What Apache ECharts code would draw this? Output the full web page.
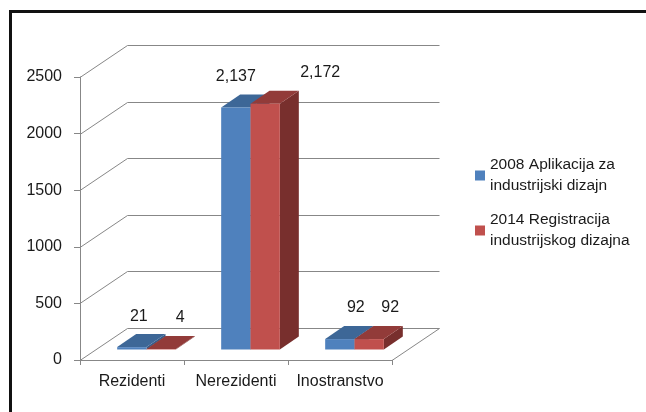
<!DOCTYPE html>
<html><head><meta charset="utf-8">
<script src="https://cdn.jsdelivr.net/npm/echarts@6/dist/echarts.min.js"></script>
<style>html,body{margin:0;padding:0;background:#fff}#c{width:646px;height:412px}</style>
</head><body><div id="c"></div>
<script>
// ---- data ----
const categories = ['Rezidenti', 'Nerezidenti', 'Inostranstvo'];
const seriesNames = ['2008 Aplikacija za\nindustrijski dizajn', '2014 Registracija\nindustrijskog dizajna'];
const values2008 = [21, 2137, 92];
const values2014 = [4, 2172, 92];
const yTicks = [0, 500, 1000, 1500, 2000, 2500];

// ---- layout / style ----
const WALL_DX = 47.5, WALL_DY = -32;
const BAR_SHIFT_X = 14.5, BAR_SHIFT_Y = -10.5;
const BAR_DEPTH_X = 19, BAR_DEPTH_Y = -13;
const BAR_FRAC = 0.282;
const labelDx = [[7, 0, 16], [19, 55, 21]];
const LABEL_DY = -31;
const colors = [
  { front: '#4F81BD', top: '#3D6797', side: '#385D8A' },
  { front: '#C0504D', top: '#923B39', side: '#782F2D' }
];
const FONT = '"Liberation Sans", Arial, sans-serif';
const TEXT = '#1a1a1a';
const GRID = '#878787';

function renderWall(params, api) {
  const cs = params.coordSys;
  const v = api.value(1);
  const y = Math.round(api.coord([0, v])[1]) + 0.5;
  const x0 = cs.x, x1 = cs.x + cs.width;
  const children = [{
    type: 'polyline',
    shape: { points: [[x0, y], [x0 + WALL_DX, y + WALL_DY], [x1 + WALL_DX, y + WALL_DY]] },
    style: { stroke: GRID, lineWidth: 1, fill: null }
  }];
  if (v === 0) {
    children.push({ type: 'line', shape: { x1: x1, y1: y, x2: x1 + WALL_DX, y2: y + WALL_DY },
      style: { stroke: GRID, lineWidth: 1 } });
  }
  return { type: 'group', children: children };
}

function makeBarRender(si) {
  return function (params, api) {
    const ci = api.value(0), v = api.value(1);
    const base = api.coord([ci, 0]);
    const top = api.coord([ci, v]);
    const band = api.size([1, 0])[0];
    const w = band * BAR_FRAC;
    const xl = base[0] - w + si * w + BAR_SHIFT_X;
    const xr = xl + w;
    const yb = base[1] + BAR_SHIFT_Y;
    const yt = top[1] + BAR_SHIFT_Y;
    const c = colors[si];
    const dx = BAR_DEPTH_X, dy = BAR_DEPTH_Y;
    return { type: 'group', children: [
      { type: 'polygon', shape: { points: [[xr, yt], [xr + dx, yt + dy], [xr + dx, yb + dy], [xr, yb]] }, style: { fill: c.side } },
      { type: 'polygon', shape: { points: [[xl, yt], [xl + dx, yt + dy], [xr + dx, yt + dy], [xr, yt]] }, style: { fill: c.top } },
      { type: 'rect', shape: { x: xl, y: yt, width: w, height: yb - yt }, style: { fill: c.front } },
      { type: 'text', style: { text: v.toLocaleString('en-US'), x: (xl + xr) / 2 + labelDx[si][params.dataIndex],
        y: yt + LABEL_DY, align: 'center', verticalAlign: 'middle', fill: TEXT, fontSize: 16, fontFamily: FONT } }
    ] };
  };
}

const chart = echarts.init(document.getElementById('c'), null, { renderer: 'canvas' });
chart.setOption({
  animation: false,
  backgroundColor: '#fff',
  graphic: [{ type: 'rect', shape: { x: 10.5, y: 11.5, width: 700, height: 500 },
    style: { fill: null, stroke: '#111', lineWidth: 3 }, z: 100 }],
  grid: { left: 80, right: 254, top: 77, bottom: 52 },
  legend: {
    orient: 'vertical', left: 475, top: 144, itemWidth: 10, itemHeight: 10, itemGap: -8, padding: 0,
    icon: 'rect', data: seriesNames, selectedMode: false,
    textStyle: { fontFamily: FONT, fontSize: 15.5, color: TEXT, lineHeight: 21, padding: [21, 0, 0, 0] }
  },
  xAxis: {
    type: 'category', data: categories,
    axisLine: { show: true, lineStyle: { color: GRID } },
    axisTick: { show: true, length: 5, lineStyle: { color: GRID } },
    axisLabel: { margin: 14, fontSize: 16, fontFamily: FONT, color: TEXT, interval: 0, hideOverlap: false }
  },
  yAxis: {
    type: 'value', min: 0, max: 2500, interval: 500,
    axisLine: { show: true, lineStyle: { color: GRID } },
    axisTick: { show: true, length: 6, lineStyle: { color: GRID } },
    splitLine: { show: false },
    axisLabel: { margin: 18, fontSize: 16, fontFamily: FONT, color: TEXT, formatter: v => String(v) }
  },
  series: [
    { type: 'custom', name: 'wall', renderItem: renderWall, data: yTicks.map(v => [0, v]), z: 1, silent: true },
    { type: 'custom', name: seriesNames[0], renderItem: makeBarRender(0), itemStyle: { color: colors[0].front },
      data: values2008.map((v, i) => [i, v]), z: 2 },
    { type: 'custom', name: seriesNames[1], renderItem: makeBarRender(1), itemStyle: { color: colors[1].front },
      data: values2014.map((v, i) => [i, v]), z: 2 }
  ]
});
</script>
</body></html>
